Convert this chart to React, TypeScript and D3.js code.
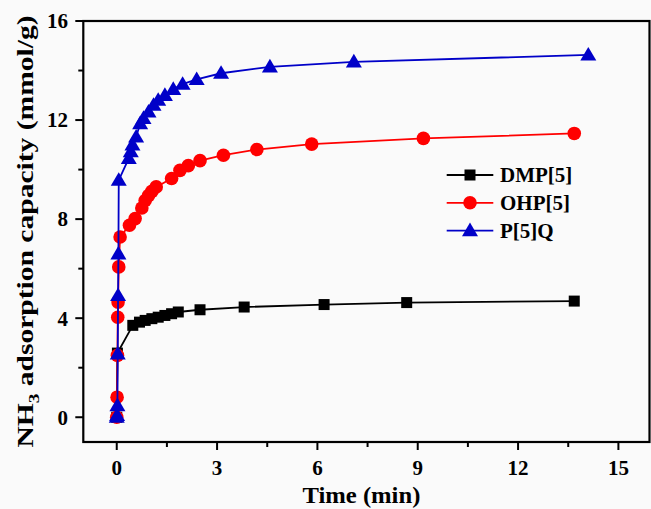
import React from "react";
import * as d3 from "d3";

const dmpTime = [0, 0.02, 0.48, 0.68, 0.85, 1.05, 1.24, 1.44, 1.64, 1.84, 2.49, 3.81, 6.2, 8.67, 13.68];
const dmpVal = [0, 2.59, 3.71, 3.84, 3.91, 3.98, 4.04, 4.11, 4.18, 4.25, 4.34, 4.45, 4.55, 4.63, 4.69];

const ohpTime = [0, 0.01, 0.02, 0.03, 0.04, 0.06, 0.1, 0.38, 0.55, 0.75, 0.85, 0.95, 1.05, 1.18, 1.64, 1.89, 2.14, 2.49, 3.19, 4.19, 5.83, 9.17, 13.68];
const ohpVal = [0, 0.81, 2.5, 4.04, 4.65, 6.07, 7.28, 7.75, 8.02, 8.45, 8.75, 8.95, 9.12, 9.3, 9.64, 9.97, 10.16, 10.36, 10.58, 10.81, 11.03, 11.26, 11.46];

const p5qTime = [0, 0.01, 0.02, 0.03, 0.04, 0.05, 0.06, 0.36, 0.42, 0.47, 0.58, 0.7, 0.8, 0.95, 1.1, 1.24, 1.44, 1.69, 1.97, 2.39, 3.12, 4.58, 7.09, 14.1];
const p5qVal = [0, 0.07, 0.47, 2.56, 4.92, 6.6, 9.57, 10.45, 10.72, 11.0, 11.32, 11.86, 12.07, 12.33, 12.6, 12.8, 13.0, 13.24, 13.45, 13.64, 13.89, 14.15, 14.35, 14.63];

const seriesNames = ["DMP[5]", "OHP[5]", "P[5]Q"];
const seriesColors = ["#000000", "#ff0000", "#0000c8"];
const xTicks = [0, 3, 6, 9, 12, 15];
const xMinorTicks = [1.5, 4.5, 7.5, 10.5, 13.5];
const yTicks = [0, 4, 8, 12, 16];
const yMinorTicks = [2, 6, 10, 14];

const W = 651;
const H = 509;
const left = 83.3;
const right = 649.5;
const top = 21;
const bottom = 442;
const font = "'Liberation Serif', 'Times New Roman', serif";

type Pt = { t: number; v: number };

function Marker({ kind, x, y, color }: { kind: string; x: number; y: number; color: string }) {
  if (kind === "square") return <rect x={x - 5.5} y={y - 5.5} width={11} height={11} fill={color} />;
  if (kind === "circle") return <circle cx={x} cy={y} r={6.8} fill={color} />;
  const s = 8;
  return <path d={`M${x},${y - s}L${x + s},${y + s * 0.7}L${x - s},${y + s * 0.7}Z`} fill={color} />;
}

export default function App() {
  const x = d3.scaleLinear().domain([-1, 15.93]).range([left, right]);
  const y = d3.scaleLinear().domain([-1, 16]).range([bottom, top]);
  const line = d3.line<Pt>().x((d) => x(d.t)).y((d) => y(d.v));

  const series = [
    { name: seriesNames[0], color: seriesColors[0], kind: "square", pts: dmpTime.map((t, i) => ({ t, v: dmpVal[i] })) },
    { name: seriesNames[1], color: seriesColors[1], kind: "circle", pts: ohpTime.map((t, i) => ({ t, v: ohpVal[i] })) },
    { name: seriesNames[2], color: seriesColors[2], kind: "triangle", pts: p5qTime.map((t, i) => ({ t, v: p5qVal[i] })) },
  ];

  const legX = 446.7;
  const legY0 = 175;
  const legDy = 27.8;

  return (
    <svg width={W} height={H} style={{ position: "absolute", left: 0, top: 0, background: "#fafafa" }} fontFamily={font}>
      <rect x={0} y={0} width={W} height={H} fill="#fafafa" />
      {series.map((s) => (
        <g key={s.name}>
          <path d={line(s.pts) || ""} fill="none" stroke={s.color} strokeWidth={1.8} />
          {s.pts.map((p, i) => (
            <Marker key={i} kind={s.kind} x={x(p.t)} y={y(p.v)} color={s.color} />
          ))}
        </g>
      ))}
      <rect x={left} y={top} width={right - left} height={bottom - top} fill="none" stroke="#000" strokeWidth={2.2} />
      {xTicks.map((t) => (
        <g key={"xt" + t}>
          <line x1={x(t)} x2={x(t)} y1={bottom} y2={bottom + 8} stroke="#000" strokeWidth={2} />
          <text x={x(t)} y={475} textAnchor="middle" fontSize={21} fontWeight="bold">{t}</text>
        </g>
      ))}
      {xMinorTicks.map((t) => (
        <line key={"xm" + t} x1={x(t)} x2={x(t)} y1={bottom} y2={bottom + 5} stroke="#000" strokeWidth={2} />
      ))}
      {yTicks.map((v) => (
        <g key={"yt" + v}>
          <line x1={left - 8} x2={left} y1={y(v)} y2={y(v)} stroke="#000" strokeWidth={2} />
          <text x={68} y={y(v)} dy="0.35em" textAnchor="end" fontSize={21} fontWeight="bold">{v}</text>
        </g>
      ))}
      {yMinorTicks.map((v) => (
        <line key={"ym" + v} x1={left - 5} x2={left} y1={y(v)} y2={y(v)} stroke="#000" strokeWidth={2} />
      ))}
      <text x={(left + right) / 2 - 5} y={503} textAnchor="middle" fontSize={23} fontWeight="bold" textLength={118} lengthAdjust="spacingAndGlyphs">Time (min)</text>
      <text transform={`translate(33, ${(top + bottom) / 2}) rotate(-90)`} textAnchor="middle" fontSize={23} fontWeight="bold" textLength={432} lengthAdjust="spacingAndGlyphs">
        NH<tspan fontSize={15} dy={6}>3</tspan><tspan dy={-6}> adsorption capacity (mmol/g)</tspan>
      </text>
      {series.map((s, i) => {
        const yy = legY0 + i * legDy;
        return (
          <g key={"leg" + s.name}>
            <line x1={legX} x2={legX + 46.6} y1={yy} y2={yy} stroke={s.color} strokeWidth={1.8} />
            <Marker kind={s.kind} x={legX + 23.3} y={yy} color={s.color} />
            <text x={500} y={yy} dy="0.35em" fontSize={21} fontWeight="bold">{s.name}</text>
          </g>
        );
      })}
    </svg>
  );
}
